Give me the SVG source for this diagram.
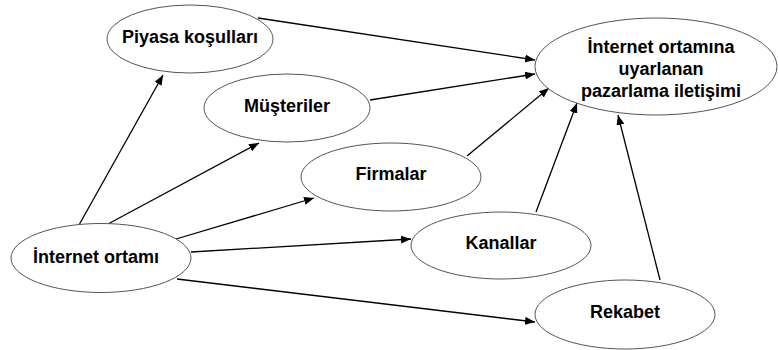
<svg xmlns="http://www.w3.org/2000/svg" width="778" height="350" viewBox="0 0 778 350">
<style>
.n ellipse{fill:#fff;stroke:#555;stroke-width:1}
.n text{font-family:"Liberation Sans",Arial,sans-serif;font-weight:bold;font-size:18px;fill:#000;text-anchor:middle}
.e line{stroke:#000;stroke-width:1.3;marker-end:url(#ah)}
</style>
<defs>
<marker id="ah" viewBox="0 0 10 8" refX="10" refY="4" markerWidth="10" markerHeight="8" markerUnits="userSpaceOnUse" orient="auto">
<path d="M0,0 L10,4 L0,8 Z" fill="#000"/>
</marker>
</defs>
<rect width="778" height="350" fill="#fff"/>
<g class="e" id="connectors">
<line x1="258" y1="18" x2="535" y2="60"/>
<line x1="370" y1="100" x2="535" y2="74"/>
<line x1="467" y1="156" x2="549" y2="88"/>
<line x1="536" y1="212" x2="577" y2="103"/>
<line x1="660" y1="280" x2="618" y2="115"/>
<line x1="79" y1="225" x2="163" y2="75"/>
<line x1="108" y1="224" x2="259" y2="143"/>
<line x1="176" y1="239" x2="314" y2="198"/>
<line x1="191" y1="252" x2="411" y2="239"/>
<line x1="177" y1="279" x2="535" y2="322"/>
</g>
<g class="n" id="piyasa"><ellipse cx="190" cy="39" rx="83" ry="34"/><text x="190" y="43">Piyasa koşulları</text></g>
<g class="n" id="musteriler"><ellipse cx="287" cy="108" rx="83" ry="34"/><text x="287" y="112">Müşteriler</text></g>
<g class="n" id="firmalar"><ellipse cx="391" cy="177" rx="90" ry="34"/><text x="391" y="180">Firmalar</text></g>
<g class="n" id="internet"><ellipse cx="101" cy="258" rx="90" ry="34.5"/><text x="96" y="263">İnternet ortamı</text></g>
<g class="n" id="kanallar"><ellipse cx="501" cy="245.5" rx="90" ry="33.5"/><text x="501" y="249">Kanallar</text></g>
<g class="n" id="rekabet"><ellipse cx="625" cy="314.5" rx="90" ry="34.5"/><text x="625" y="318">Rekabet</text></g>
<g class="n" id="hedef"><ellipse cx="656" cy="66.5" rx="121" ry="48.5"/><text x="661" y="53">İnternet ortamına</text><text x="661" y="75">uyarlanan</text><text x="661" y="97">pazarlama iletişimi</text></g>
</svg>
